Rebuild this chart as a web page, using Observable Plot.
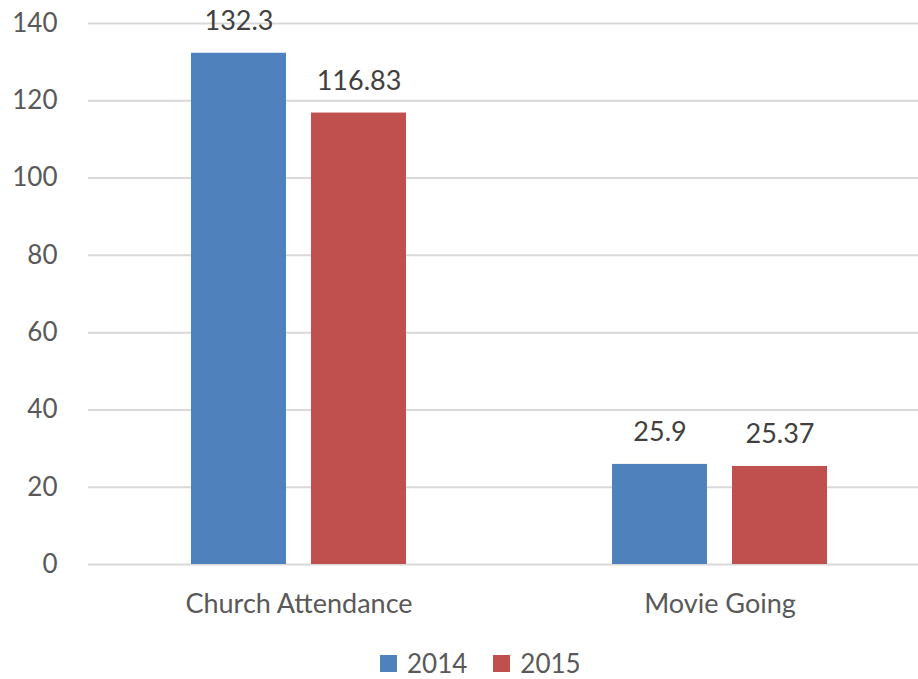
<!DOCTYPE html>
<html><head><meta charset="utf-8">
<script src="https://cdn.jsdelivr.net/npm/d3@7"></script>
<script src="https://cdn.jsdelivr.net/npm/@observablehq/plot@0.6"></script>
<style>
html,body{margin:0;padding:0;overflow:hidden;background:#fff;}
#chart{position:relative;width:918px;height:679px;font-family:Lato,"Open Sans",sans-serif;}
#chart svg{overflow:hidden;display:block;}
.legend{position:absolute;top:647px;left:380px;display:flex;align-items:center;font-size:26px;color:#595959;line-height:normal;}
.legend .sw{width:17px;height:17px;display:inline-block;margin-right:10px;}
.legend .item{display:flex;align-items:center;margin-right:26px;}
</style></head><body><div id="chart"></div>
<script>
const categories = ["Church Attendance", "Movie Going"];
const years = ["2014", "2015"];
const values2014 = [132.3, 25.9];
const values2015 = [116.83, 25.37];
const labels2014 = ["132.3", "25.9"];
const labels2015 = ["116.83", "25.37"];
const yTicks = [0, 20, 40, 60, 80, 100, 120, 140];
const colors = ["#4F81BD", "#C0504D"];

const data = [];
categories.forEach((c, i) => {
  data.push({category: c, year: years[0], value: values2014[i], label: labels2014[i]});
  data.push({category: c, year: years[1], value: values2015[i], label: labels2015[i]});
});

const chart = Plot.plot({
  width: 918,
  height: 640,
  marginLeft: 88,
  marginRight: -12,
  marginTop: 23,
  marginBottom: 76,
  style: {fontFamily: "Lato, 'Open Sans', sans-serif", fontSize: "26px", color: "#595959", background: "#fff"},
  fx: {domain: categories, padding: 0, label: null},
  x: {domain: years, paddingInner: 0.208, paddingOuter: 0.858, axis: null},
  y: {domain: [0, 140], label: null},
  color: {domain: years, range: colors},
  marks: [
    Plot.gridY(yTicks, {stroke: "#D9D9D9", strokeOpacity: 1, strokeWidth: 2}),
    Plot.axisY(yTicks, {tickSize: 0, tickPadding: 31, fontSize: 26, fill: "#595959", label: null}),
    Plot.barY(data, {fx: "category", x: "year", y: "value", fill: "year"}),
    Plot.text(data, {fx: "category", x: "year", y: "value", text: "label", dy: -32, fontSize: 27, fill: "#404040"}),
    Plot.axisFx({anchor: "bottom", tickSize: 0, tickPadding: 29, fontSize: 27, fill: "#595959", label: null})
  ]
});
const root = document.getElementById("chart");
root.appendChild(chart);

const legend = document.createElement("div");
legend.className = "legend";
years.forEach((y, i) => {
  const item = document.createElement("div");
  item.className = "item";
  const sw = document.createElement("span");
  sw.className = "sw";
  sw.style.background = colors[i];
  const t = document.createElement("span");
  t.textContent = y;
  item.appendChild(sw);
  item.appendChild(t);
  legend.appendChild(item);
});
root.appendChild(legend);
</script>
</body></html>
